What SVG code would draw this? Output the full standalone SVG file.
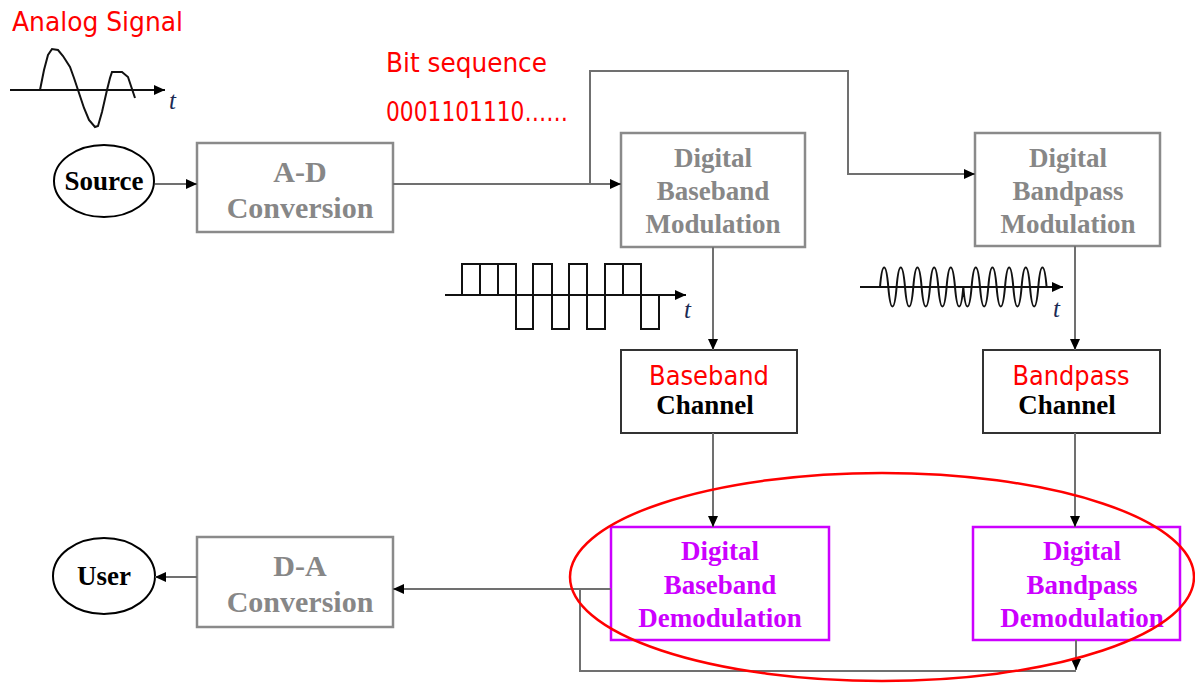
<svg xmlns="http://www.w3.org/2000/svg" width="1195" height="683" viewBox="0 0 1195 683">
<style>
.gbox{fill:none;stroke:#8a8a8a;stroke-width:2.5}
.kbox{fill:none;stroke:#333;stroke-width:2}
.mbox{fill:none;stroke:#cc00ff;stroke-width:2.5}
.gt{font-family:"Liberation Serif",serif;font-weight:bold;font-size:27px;fill:#878787;text-anchor:middle}
.gt30{font-family:"Liberation Serif",serif;font-weight:bold;font-size:30px;fill:#878787;text-anchor:middle}
.mt{font-family:"Liberation Serif",serif;font-weight:bold;font-size:27px;fill:#cc00ff;text-anchor:middle}
.kt{font-family:"Liberation Serif",serif;font-weight:bold;font-size:27px;fill:#000;text-anchor:middle}
.rt{font-family:"DejaVu Sans","Open Sans",sans-serif;font-size:26px;fill:#ff0000}
.tt{font-family:"Liberation Serif",serif;font-style:italic;font-size:25px;fill:#1a2a55}
.ln{fill:none;stroke:#707070;stroke-width:2}
.wv{fill:none;stroke:#111;stroke-width:2}
</style>
<defs>
<marker id="ah" markerUnits="userSpaceOnUse" markerWidth="12" markerHeight="10" refX="11" refY="5" orient="auto">
<path d="M0,0 L11,5 L0,10 z" fill="#000"/>
</marker>
</defs>
<rect width="1195" height="683" fill="#fff"/>

<g id="analog-signal">
<text class="rt" x="12" y="31" textLength="171" lengthAdjust="spacingAndGlyphs">Analog Signal</text>
<line class="wv" x1="10" y1="90" x2="165" y2="90" marker-end="url(#ah)"/>
<polyline class="wv" points="40,90 44,70 48,55 52,49 58,50 63,56 70,67 74,78 78,90 84,108 89,120 95,127 98,126 102,112 107,90 110,78 112,72 122,72 128,77 131,86 135,98"/>
<text class="tt" x="169" y="109">t</text>
</g>

<g id="source">
<ellipse cx="104" cy="181" rx="50" ry="36" fill="none" stroke="#000" stroke-width="2"/>
<text class="kt" x="104" y="190">Source</text>
</g>

<g id="ad">
<rect class="gbox" x="197" y="143" width="196" height="89"/>
<text class="gt30" x="300" y="182">A-D</text>
<text class="gt30" x="300" y="218">Conversion</text>
</g>

<g id="bitseq">
<text class="rt" x="386" y="72" textLength="161" lengthAdjust="spacingAndGlyphs">Bit sequence</text>
<text class="rt" x="386" y="121" textLength="182" lengthAdjust="spacingAndGlyphs">0001101110……</text>
</g>

<g id="bb-mod">
<rect class="gbox" x="621" y="133" width="184" height="114"/>
<text class="gt" x="713" y="167">Digital</text>
<text class="gt" x="713" y="200">Baseband</text>
<text class="gt" x="713" y="233">Modulation</text>
</g>

<g id="bp-mod">
<rect class="gbox" x="975" y="133" width="185" height="113"/>
<text class="gt" x="1068" y="167">Digital</text>
<text class="gt" x="1068" y="200">Bandpass</text>
<text class="gt" x="1068" y="233">Modulation</text>
</g>

<g id="square-wave">
<line class="wv" x1="445" y1="295" x2="686" y2="295" marker-end="url(#ah)"/>
<g class="wv" stroke-width="1.8">
<rect x="462" y="264" width="18" height="31"/>
<rect x="480" y="264" width="18" height="31"/>
<rect x="498" y="264" width="18" height="31"/>
<rect x="516" y="295" width="17" height="34"/>
<rect x="533" y="264" width="19" height="31"/>
<rect x="552" y="295" width="17" height="34"/>
<rect x="569" y="264" width="18" height="31"/>
<rect x="587" y="295" width="18" height="34"/>
<rect x="605" y="264" width="18" height="31"/>
<rect x="623" y="264" width="18" height="31"/>
<rect x="641" y="295" width="18" height="34"/>
</g>
<text class="tt" x="684" y="318">t</text>
</g>

<g id="sine-wave">
<line class="wv" x1="860" y1="287" x2="1063" y2="287" marker-end="url(#ah)"/>
<path class="wv" d="M880,287 C882.2,261 886.1,261 888.3,287 C890.5,313 894.4,313 896.6,287 C898.8,261 902.7,261 905,287 C907.2,313 911.1,313 913.3,287 C915.5,261 919.4,261 921.6,287 C923.8,313 927.7,313 930,287 C932.2,261 936.1,261 938.3,287 C940.5,313 944.4,313 946.6,287 C948.8,261 952.7,261 955,287 C957.2,313 961.1,313 963.3,287 C965.5,313 969.4,313 971.6,287 C973.8,261 977.7,261 980,287 C982.2,313 986.1,313 988.3,287 C990.5,261 994.4,261 996.6,287 C998.8,313 1002.7,313 1005,287 C1007.2,261 1011.1,261 1013.3,287 C1015.5,313 1019.4,313 1021.6,287 C1023.8,261 1027.7,261 1030,287 C1032.2,313 1036.1,313 1038.3,287 C1040.5,261 1044.4,261 1046.6,287"/>
<text class="tt" x="1053" y="317">t</text>
</g>

<g id="bb-channel">
<rect class="kbox" x="621" y="350" width="176" height="83"/>
<text class="rt" x="709" y="385" text-anchor="middle" textLength="120" lengthAdjust="spacingAndGlyphs">Baseband</text>
<text class="kt" x="705" y="414">Channel</text>
</g>

<g id="bp-channel">
<rect class="kbox" x="983" y="350" width="177" height="83"/>
<text class="rt" x="1071" y="385" text-anchor="middle" textLength="117" lengthAdjust="spacingAndGlyphs">Bandpass</text>
<text class="kt" x="1067" y="414">Channel</text>
</g>

<g id="bb-demod">
<rect class="mbox" x="611" y="527" width="218" height="113"/>
<text class="mt" x="720" y="560">Digital</text>
<text class="mt" x="720" y="594">Baseband</text>
<text class="mt" x="720" y="627">Demodulation</text>
</g>

<g id="bp-demod">
<rect class="mbox" x="973" y="527" width="207" height="113"/>
<text class="mt" x="1082" y="560">Digital</text>
<text class="mt" x="1082" y="594">Bandpass</text>
<text class="mt" x="1082" y="627">Demodulation</text>
</g>

<g id="da">
<rect class="gbox" x="197" y="537" width="196" height="90"/>
<text class="gt30" x="300" y="576">D-A</text>
<text class="gt30" x="300" y="612">Conversion</text>
</g>

<g id="user">
<ellipse cx="104" cy="576" rx="51" ry="38" fill="none" stroke="#000" stroke-width="2"/>
<text class="kt" x="104" y="585">User</text>
</g>

<g id="connectors">
<line class="ln" x1="155" y1="184" x2="197" y2="184" marker-end="url(#ah)"/>
<line class="ln" x1="393" y1="184" x2="621" y2="184" marker-end="url(#ah)"/>
<polyline class="ln" points="590,184 590,71 848,71 848,174 975,174" marker-end="url(#ah)"/>
<line class="ln" x1="713" y1="247" x2="713" y2="350" marker-end="url(#ah)"/>
<line class="ln" x1="1075" y1="246" x2="1075" y2="350" marker-end="url(#ah)"/>
<line class="ln" x1="713" y1="433" x2="713" y2="527" marker-end="url(#ah)"/>
<line class="ln" x1="1075" y1="433" x2="1075" y2="527" marker-end="url(#ah)"/>
<line class="ln" x1="611" y1="589" x2="393" y2="589" marker-end="url(#ah)"/>
<polyline class="ln" points="580,589 580,671 1076,671"/>
<line class="ln" x1="1076" y1="640" x2="1076" y2="670" marker-end="url(#ah)"/>
<line class="ln" x1="197" y1="577" x2="155" y2="577" marker-end="url(#ah)"/>
</g>

<ellipse id="highlight" cx="882" cy="577" rx="312" ry="104" fill="none" stroke="#ff0000" stroke-width="2.5"/>
</svg>
